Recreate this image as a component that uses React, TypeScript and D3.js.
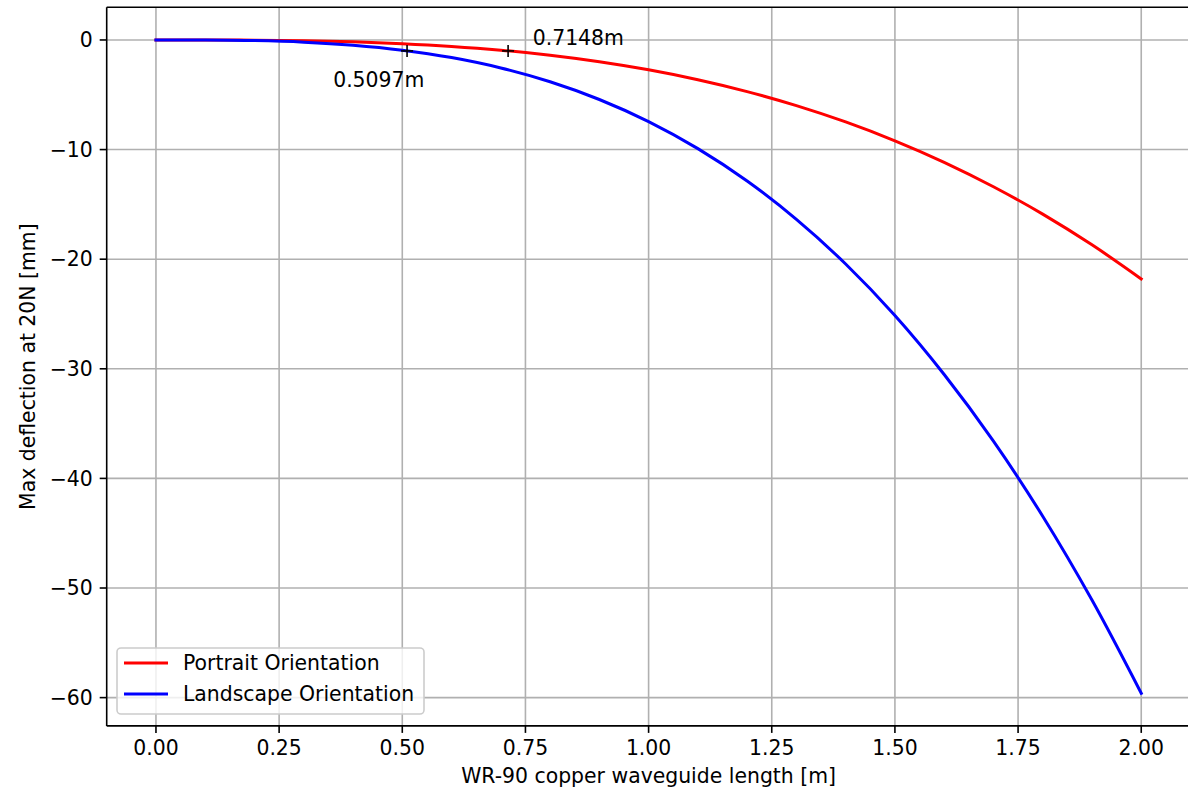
import React from "react";
import * as d3 from "d3";

// Waveguide length samples [m]
const lengths = [0, 0.1, 0.2, 0.3, 0.4, 0.5, 0.6, 0.7, 0.8, 0.9, 1.0, 1.1, 1.2, 1.3, 1.4, 1.5, 1.6, 1.7, 1.8, 1.9, 2.0];
// Max deflection at 20 N [mm], portrait orientation
const portrait = [0, -0.003, -0.022, -0.074, -0.174, -0.34, -0.589, -0.935, -1.395, -1.987, -2.725, -3.627, -4.709, -5.987, -7.477, -9.197, -11.16, -13.39, -15.89, -18.69, -21.8];
// Max deflection at 20 N [mm], landscape orientation
const landscape = [0, -0.0075, -0.06, -0.201, -0.477, -0.931, -1.609, -2.555, -3.814, -5.431, -7.45, -9.916, -12.87, -16.37, -20.44, -25.14, -30.52, -36.6, -43.45, -51.1, -59.6];

// Lengths at which each orientation reaches 1 mm deflection
const limitDeflection = -1;
const portraitLimit = 0.7148;
const landscapeLimit = 0.5097;

const xTicks = [0, 0.25, 0.5, 0.75, 1.0, 1.25, 1.5, 1.75, 2.0];
const yTicks = [0, -10, -20, -30, -40, -50, -60];

const seriesNames = ["Portrait Orientation", "Landscape Orientation"];
const seriesColors = ["#ff0000", "#0000ff"];

const W = 1188;
const H = 793;
const FONT = "DejaVu Sans, sans-serif";
const FS = 20.4;

export default function App() {
  const left = 106.7, right = 1190.5, top = 7.3, bottom = 725.9;
  const x = d3.scaleLinear().domain([-0.1, 2.1]).range([left, right]);
  const y = d3.scaleLinear().domain([-62.58, 2.98]).range([bottom, top]);

  const line = d3
    .line<number>()
    .x((_, i) => x(lengths[i]))
    .y((d) => y(d))
    .curve(d3.curveCatmullRom);

  const fmtX = d3.format(".2f");
  const fmtY = (v: number) => (v < 0 ? "\u2212" + Math.abs(v) : String(v));

  const markers = [landscapeLimit, portraitLimit];

  return (
    <svg width={W} height={H} style={{ position: "absolute", left: 0, top: 0, background: "#fff" }} fontFamily={FONT}>
      <defs>
        <clipPath id="plot-area">
          <rect x={left} y={top} width={right - left} height={bottom - top} />
        </clipPath>
      </defs>
      <rect x={0} y={0} width={W} height={H} fill="#fff" />

      {/* grid */}
      <g stroke="#b0b0b0" strokeWidth={1.6}>
        {xTicks.map((t) => (
          <line key={"gx" + t} x1={x(t)} x2={x(t)} y1={top} y2={bottom} />
        ))}
        {yTicks.map((t) => (
          <line key={"gy" + t} x1={left} x2={right} y1={y(t)} y2={y(t)} />
        ))}
      </g>

      {/* curves */}
      <g clipPath="url(#plot-area)" fill="none" strokeWidth={3} strokeLinejoin="round" strokeLinecap="square">
        <path d={line(portrait) || ""} stroke={seriesColors[0]} />
        <path d={line(landscape) || ""} stroke={seriesColors[1]} />
      </g>

      {/* 1 mm crossing markers */}
      <g stroke="#000" strokeWidth={1.6}>
        {markers.map((m) => (
          <g key={"m" + m}>
            <line x1={x(m) - 6} x2={x(m) + 6} y1={y(limitDeflection)} y2={y(limitDeflection)} />
            <line x1={x(m)} x2={x(m)} y1={y(limitDeflection) - 6} y2={y(limitDeflection) + 6} />
          </g>
        ))}
      </g>
      <g fontSize={FS} fill="#000">
        <text x={x(landscapeLimit - 0.15)} y={y(-4.3)}>{landscapeLimit.toFixed(4) + "m"}</text>
        <text x={x(portraitLimit + 0.05)} y={y(-0.5)}>{portraitLimit.toFixed(4) + "m"}</text>
      </g>

      {/* spines */}
      <g stroke="#000" strokeWidth={1.6} fill="none">
        <line x1={left} x2={left} y1={top} y2={bottom} />
        <line x1={left} x2={right} y1={bottom} y2={bottom} />
        <line x1={left} x2={right} y1={top} y2={top} />
        <line x1={right} x2={right} y1={top} y2={bottom} />
      </g>

      {/* x axis ticks */}
      <g fontSize={FS} fill="#000" textAnchor="middle">
        {xTicks.map((t) => (
          <g key={"xt" + t}>
            <line x1={x(t)} x2={x(t)} y1={bottom} y2={bottom + 7} stroke="#000" strokeWidth={1.6} />
            <text x={x(t)} y={bottom + 29}>{fmtX(t)}</text>
          </g>
        ))}
      </g>

      {/* y axis ticks */}
      <g fontSize={FS} fill="#000" textAnchor="end">
        {yTicks.map((t) => (
          <g key={"yt" + t}>
            <line x1={left - 7} x2={left} y1={y(t)} y2={y(t)} stroke="#000" strokeWidth={1.6} />
            <text x={left - 14} y={y(t)} dy="0.35em">{fmtY(t)}</text>
          </g>
        ))}
      </g>

      {/* axis labels */}
      <text x={(left + right) / 2} y={783} fontSize={FS} textAnchor="middle" fill="#000">
        WR-90 copper waveguide length [m]
      </text>
      <text
        transform={`translate(35, ${(top + bottom) / 2}) rotate(-90)`}
        fontSize={FS}
        textAnchor="middle"
        fill="#000"
      >
        Max deflection at 20N [mm]
      </text>

      {/* legend */}
      <g>
        <rect x={117} y={648} width={307} height={66} rx={4} fill="#fff" fillOpacity={0.8} stroke="#cccccc" strokeWidth={1.6} />
        {seriesNames.map((name, i) => (
          <g key={name}>
            <line x1={124} x2={168} y1={663 + i * 31} y2={663 + i * 31} stroke={seriesColors[i]} strokeWidth={3} />
            <text x={183} y={663 + i * 31} dy="0.35em" fontSize={FS} fill="#000">{name}</text>
          </g>
        ))}
      </g>
    </svg>
  );
}
